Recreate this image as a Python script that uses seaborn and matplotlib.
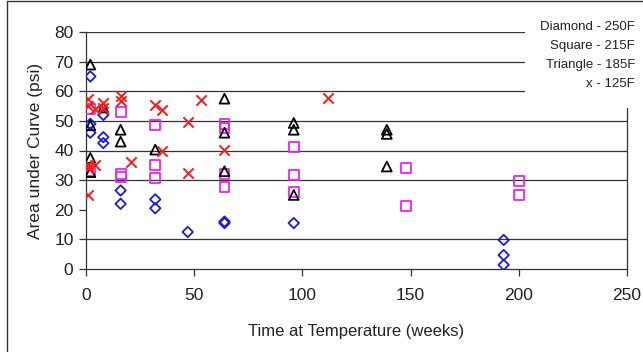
import matplotlib
matplotlib.use("Agg")
import matplotlib.pyplot as plt
import seaborn as sns
import pandas as pd
from matplotlib.patches import Rectangle
from matplotlib.lines import Line2D

sns.set_theme(style="white")
plt.rcParams['font.family'] = ['Liberation Sans', 'DejaVu Sans']

# Diamond - 250F
d_weeks = [2, 2, 2, 8, 8, 8, 16, 16, 32, 32, 47, 64, 64, 96, 193, 193, 193]
d_vals  = [65, 49, 46, 52, 44.5, 42.5, 26.5, 22, 23.5, 20.5, 12.5, 16, 15.5, 15.5, 9.8, 4.7, 1.4]
# Square - 215F
s_weeks = [2, 2, 16, 16, 16, 32, 32, 32, 64, 64, 64, 64, 96, 96, 96, 148, 148, 200, 200]
s_vals  = [54, 33, 53, 32, 31, 48.6, 35, 30.7, 49, 47.6, 32, 27.7, 41.2, 31.7, 26, 34, 21.3, 29.7, 25]
# Triangle - 185F
t_weeks = [2, 2, 2, 2, 8, 16, 16, 32, 64, 64, 64, 96, 96, 96, 139, 139, 139]
t_vals  = [69, 48.5, 37.5, 32.7, 54.5, 47, 43, 40.3, 57.5, 46, 33, 49.3, 47, 25, 47, 45.6, 34.6]
# x - 125F
x_weeks = [1, 1, 1, 1, 1, 4, 4, 8, 8, 16, 16, 21, 32, 35, 35, 47, 47, 53, 64, 112]
x_vals  = [25, 34, 35, 55, 57.5, 54, 35, 56, 54.5, 58.4, 56.7, 36, 55.3, 53.7, 39.7, 49.5, 32.5, 57, 40.2, 57.7]

legend_lines = ["Diamond - 250F", "Square - 215F", "Triangle - 185F", "x - 125F"]

fig = plt.figure(figsize=(6.43, 3.52), dpi=100)
fig.patch.set_facecolor('white')
ax = fig.add_axes([86/643, 1-269/352, (627-86)/643, (269-32)/352])
ax.set_facecolor('white')

# grid lines (no line at 20 in the original)
for g in [10, 30, 40, 50, 60, 70, 80]:
    ax.axhline(g, color='#333333', lw=0.9, zorder=0)

blue = '#1a1ae6'
mag = '#ee22ee'
red = '#ff1a1a'

sns.scatterplot(x=d_weeks, y=d_vals, marker='D', s=28, facecolor='none',
                edgecolor=blue, linewidth=1.3, ax=ax, zorder=3)
sns.scatterplot(x=s_weeks, y=s_vals, marker='s', s=50, facecolor='none',
                edgecolor=mag, linewidth=1.3, ax=ax, zorder=3)
sns.scatterplot(x=t_weeks, y=t_vals, marker='^', s=50, facecolor='none',
                edgecolor='black', linewidth=1.3, ax=ax, zorder=3)
sns.scatterplot(x=x_weeks, y=x_vals, marker='x', s=55, color=red,
                linewidth=1.4, ax=ax, zorder=3)

ax.set_xlim(0, 250)
ax.set_ylim(0, 80)
ax.set_xticks(range(0, 251, 50))
ax.set_yticks(range(0, 81, 10))
ax.tick_params(axis='both', labelsize=12.5, length=5, width=0.9, direction='out',
               color='#333333', colors='#222222', pad=4)
ax.tick_params(axis='x', pad=9)
for sp in ['top']:
    ax.spines[sp].set_visible(False)
for sp in ['left', 'bottom', 'right']:
    ax.spines[sp].set_color('#333333')
    ax.spines[sp].set_linewidth(0.9)
ax.tick_params(left=True, bottom=True)

ax.set_xlabel("Time at Temperature (weeks)", fontsize=12, labelpad=15, color='#222222')
ax.set_ylabel("Area under Curve (psi)", fontsize=12.5, labelpad=8, color='#222222')

# white legend text box covering top-right of plot
fig.add_artist(Rectangle((525/643, 1-108/352), 118/643, 100/352,
                         transform=fig.transFigure, facecolor='white',
                         edgecolor='none', zorder=5))
for i, t in enumerate(legend_lines):
    fig.text(635/643, 1-(27+19*i)/352, t, ha='right', va='center',
             fontsize=9.5, color='#222222', zorder=6)

# outer frame lines
fig.add_artist(Line2D([7/643, 7/643], [0, 1-1/352], transform=fig.transFigure,
                      color='#333333', lw=1.0))
fig.add_artist(Line2D([7/643, 1], [1-1/352, 1-1/352], transform=fig.transFigure,
                      color='#333333', lw=1.0))

fig.savefig("out.png", dpi=100)
